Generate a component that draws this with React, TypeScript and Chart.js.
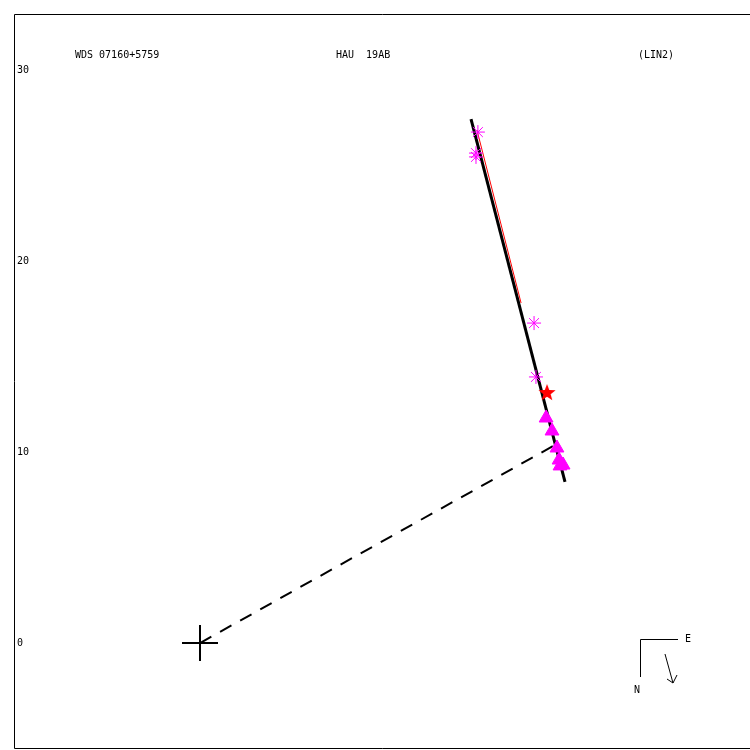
import React, { useEffect, useRef } from "react";
import { Chart, registerables } from "chart.js";

Chart.register(...registerables);

// Titles
const titleLeft = "WDS 07160+5759";
const titleMid = "HAU  19AB";
const titleRight = "(LIN2)";

// Y tick labels
const yTicks = [30, 20, 10, 0];

// Observations (x = East offset, y = North offset, arcsec-like units)
const asteriskX = [14.55, 14.45, 14.45, 17.49, 17.59];
const asteriskY = [26.75, 25.65, 25.45, 16.75, 13.93];

const redStarX = [18.17];
const redStarY = [13.09];

const triangleX = [18.12, 18.43, 18.69, 18.8, 19.01, 18.85];
const triangleY = [11.78, 11.1, 10.21, 9.58, 9.32, 9.27];

// Fitted line (black)
const fitX = [14.19, 19.11];
const fitY = [27.43, 8.43];

// Red segment
const redLineX = [14.5, 16.81];
const redLineY = [26.86, 17.8];

// Dashed line from primary
const dashX = [0, 18.59];
const dashY = [0, 10.37];

// Primary position
const primaryX = [0];
const primaryY = [0];

// Axis ranges
const xMin = -10.471;
const xMax = 28.796;
const yMin = -5.602;
const yMax = 33.665;

const zip = (xs: number[], ys: number[]) => xs.map((x, i) => ({ x, y: ys[i] }));

function makeStar(): HTMLCanvasElement {
  const c = document.createElement("canvas");
  c.width = 20;
  c.height = 20;
  const ctx = c.getContext("2d")!;
  ctx.fillStyle = "#ff0000";
  ctx.beginPath();
  const outer = 9;
  const inner = 3.8;
  for (let i = 0; i < 10; i++) {
    const r = i % 2 === 0 ? outer : inner;
    const a = -Math.PI / 2 + (i * Math.PI) / 5;
    const px = 10 + r * Math.cos(a);
    const py = 10 + r * Math.sin(a);
    if (i === 0) ctx.moveTo(px, py);
    else ctx.lineTo(px, py);
  }
  ctx.closePath();
  ctx.fill();
  return c;
}

const decorPlugin = {
  id: "decor",
  afterDraw(chart: any) {
    const ctx = chart.ctx as CanvasRenderingContext2D;
    const ys = chart.scales.y;
    ctx.save();
    // frame
    ctx.strokeStyle = "#000";
    ctx.lineWidth = 1;
    ctx.beginPath();
    ctx.moveTo(750, 14.5);
    ctx.lineTo(14.5, 14.5);
    ctx.lineTo(14.5, 748.5);
    ctx.lineTo(750, 748.5);
    ctx.stroke();

    ctx.fillStyle = "#000";
    ctx.font = "10px 'DejaVu Sans Mono'";
    ctx.textBaseline = "middle";
    ctx.textAlign = "left";
    ctx.fillText(titleLeft, 75, 55);
    ctx.fillText(titleMid, 336, 55);
    ctx.fillText(titleRight, 638, 55);

    for (const t of yTicks) {
      ctx.fillText(String(t), 17, ys.getPixelForValue(t));
    }

    // compass
    ctx.beginPath();
    ctx.moveTo(678, 639.5);
    ctx.lineTo(640.5, 639.5);
    ctx.lineTo(640.5, 677);
    ctx.stroke();
    ctx.fillText("E", 685, 639);
    ctx.fillText("N", 634, 690);
    // motion arrow
    ctx.beginPath();
    ctx.moveTo(665, 654);
    ctx.lineTo(673, 683);
    ctx.moveTo(667, 679);
    ctx.lineTo(673, 683);
    ctx.lineTo(677, 675);
    ctx.stroke();
    ctx.restore();
  },
};

export default function App() {
  const ref = useRef<HTMLCanvasElement | null>(null);

  useEffect(() => {
    document.body.style.margin = "0";
    const canvas = ref.current!;
    const star = makeStar();
    const chart = new Chart(canvas, {
      type: "scatter",
      data: {
        datasets: [
          {
            data: zip(redStarX, redStarY),
            pointStyle: star as any,
            pointRadius: 9,
            order: 0,
          },
          {
            data: zip(triangleX, triangleY),
            pointStyle: "triangle",
            pointRadius: 8,
            backgroundColor: "#ff00ff",
            borderColor: "#ff00ff",
            borderWidth: 1,
            order: 1,
          },
          {
            data: zip(asteriskX, asteriskY),
            pointStyle: "star",
            pointRadius: 7,
            backgroundColor: "#ff00ff",
            borderColor: "#ff00ff",
            borderWidth: 1,
            order: 2,
          },
          {
            data: zip(primaryX, primaryY),
            pointStyle: "cross",
            pointRadius: 18,
            borderColor: "#000",
            borderWidth: 2,
            order: 3,
          },
          {
            data: zip(redLineX, redLineY),
            showLine: true,
            pointRadius: 0,
            borderColor: "#ff0000",
            borderWidth: 1,
            order: 4,
          },
          {
            data: zip(fitX, fitY),
            showLine: true,
            pointRadius: 0,
            borderColor: "#000",
            borderWidth: 3,
            order: 5,
          },
          {
            data: zip(dashX, dashY),
            showLine: true,
            pointRadius: 0,
            borderColor: "#000",
            borderWidth: 2,
            borderDash: [13, 10],
            order: 6,
          },
        ],
      },
      options: {
        animation: false,
        responsive: false,
        maintainAspectRatio: false,
        layout: { padding: 0, autoPadding: false },
        plugins: {
          legend: { display: false },
          tooltip: { enabled: false },
          title: { display: false },
        },
        scales: {
          x: { type: "linear", display: false, min: xMin, max: xMax },
          y: { type: "linear", display: false, min: yMin, max: yMax },
        },
      },
      plugins: [decorPlugin],
    });
    return () => chart.destroy();
  }, []);

  return (
    <div style={{ width: 750, height: 750, background: "#fff" }}>
      <canvas ref={ref} width={750} height={750} style={{ display: "block" }} />
    </div>
  );
}
